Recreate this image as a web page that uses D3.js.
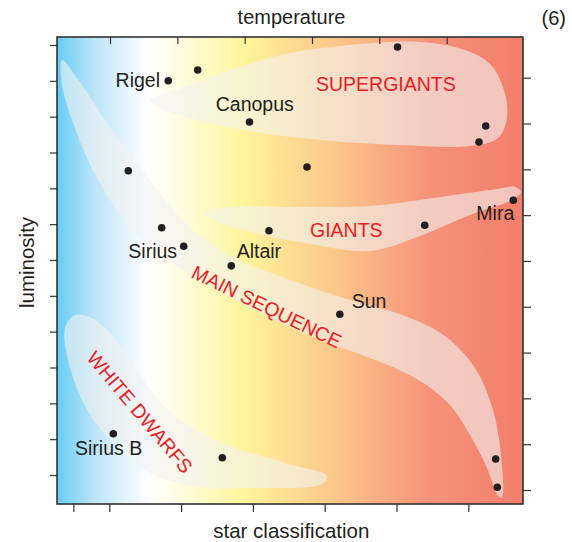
<!DOCTYPE html>
<html>
<head>
<meta charset="utf-8">
<script src="https://cdn.jsdelivr.net/npm/d3@7"></script>
<style>
  html, body { margin: 0; padding: 0; background: #ffffff; }
  svg { display: block; }
  text { font-family: "Liberation Sans", Arial, Helvetica, sans-serif; }
</style>
</head>
<body>
<svg id="chart" width="572" height="542"></svg>
<script>
// ---------------- data ----------------
// star positions in plot units (x: 0 = hot/blue .. 100 = cool/red, y: 0 = faint .. 100 = bright)
const starX = [23.88, 30.19, 73.07, 41.31, 92.0, 90.56, 53.65, 15.30, 22.47, 27.19, 45.49, 37.40, 60.69, 78.91, 97.92, 12.08, 35.47, 94.14, 94.49];
const starY = [90.64, 92.93, 97.86, 81.80, 80.94, 77.52, 72.16, 71.37, 59.16, 55.18, 58.52, 51.0, 40.64, 59.68, 65.03, 15.05, 9.91, 9.64, 3.58];

// named star labels
const starNames   = ["Rigel", "Canopus", "Sirius", "Altair", "Sun", "Mira", "Sirius B"];
const starLabelX  = [22.10, 34.06, 15.30, 38.56, 63.24, 98.13, 3.86];
const starLabelY  = [89.38, 84.05, 52.61, 52.61, 42.03, 60.81, 10.49];
const starAnchor  = ["end", "start", "start", "start", "start", "end", "start"];

// region labels
const regionNames  = ["SUPERGIANTS", "GIANTS", "MAIN SEQUENCE", "WHITE DWARFS"];
const regionX      = [55.58, 54.29, 45.0, 17.81];
const regionY      = [88.44, 57.11, 42.30, 19.70];
const regionAngle  = [0, 0, 26, 50];

// region outlines (plot units)
const supergiantsShape = [[19.96,86.51],[27.47,89.29],[37.12,92.93],[50.0,96.57],[62.88,98.29],[77.90,98.93],[87.55,97.22],[92.92,94.22],[95.92,88.65],[96.57,82.66],[94.64,78.37],[88.63,76.66],[73.61,76.87],[56.44,77.94],[41.42,79.87],[28.54,82.66],[21.24,85.22]];
const giantsShape = [[31.76,62.31],[37.12,63.60],[52.15,63.60],[67.17,63.81],[80.69,65.52],[92.92,67.24],[98.28,67.88],[99.57,66.81],[97.64,65.10],[88.63,61.88],[77.90,57.39],[67.17,54.18],[54.29,55.67],[41.42,58.24],[33.91,60.60]];
const mainSequenceShape = [[1.07,95.07],[4.94,90.36],[10.30,82.23],[16.74,73.66],[23.18,65.10],[29.61,58.24],[38.20,52.68],[50.0,47.97],[62.88,43.68],[74.68,40.26],[83.26,35.97],[89.70,29.12],[93.56,20.13],[95.28,10.49],[95.49,1.50],[94.85,1.50],[92.27,7.71],[88.63,14.78],[83.91,21.63],[76.82,26.98],[67.17,31.26],[56.44,35.12],[45.71,39.83],[37.12,44.33],[26.39,50.54],[17.81,56.96],[11.37,65.10],[6.65,73.66],[3.22,82.23],[1.07,89.72]];
const whiteDwarfShape = [[3.86,40.47],[7.51,39.83],[11.80,36.19],[16.74,29.12],[23.82,20.13],[34.55,13.49],[48.93,8.78],[57.94,6.0],[56.87,4.28],[41.42,3.43],[30.69,3.64],[19.96,6.64],[11.37,13.70],[5.36,22.27],[1.72,34.05],[1.93,38.33]];

// unlabeled tick positions on the four frame sides
const leftTicks   = [0,1,2,3,4,5,6,7,8,9,10,11,12];
const rightTicks  = [0,1,2,3,4,5,6,7,8,9];
const bottomTicks = [-0.5,0,1,2,3,4,5];
const topTicks    = [0,1,2,3,4,5];

// spectrum colour stops
const spectrumOffsets = [0, 0.08, 0.2, 0.4, 0.6, 0.8, 1];
const spectrumColors  = ["#66ccf4", "#bde5f8", "#ffffff", "#fff59b", "#fcc68a", "#f5927a", "#f27e6b"];

// ---------------- layout ----------------
const L = 57, R = 523, T = 37, B = 504;
const svg = d3.select("#chart");

const x = d3.scaleLinear().domain([0, 100]).range([L, R]);
const y = d3.scaleLinear().domain([0, 100]).range([B, T]);

const leftScale   = d3.scaleLinear().domain([0, 12]).range([475, 45]);
const rightScale  = d3.scaleLinear().domain([0, 9]).range([490, 77.7]);
const bottomScale = d3.scaleLinear().domain([0, 5]).range([109.3, 468.3]);
const topScale    = d3.scaleLinear().domain([0, 5]).range([110, 446.7]);

const defs = svg.append("defs");
const grad = defs.append("linearGradient").attr("id", "spectrum")
  .attr("x1", "0%").attr("x2", "100%").attr("y1", "0%").attr("y2", "0%");
spectrumOffsets.forEach((o, i) => {
  grad.append("stop").attr("offset", o).attr("stop-color", spectrumColors[i]);
});
defs.append("clipPath").attr("id", "plotclip").append("rect")
  .attr("x", L).attr("y", T).attr("width", R - L).attr("height", B - T);

svg.append("rect").attr("x", L).attr("y", T).attr("width", R - L).attr("height", B - T)
  .attr("fill", "url(#spectrum)");

const plot = svg.append("g").attr("clip-path", "url(#plotclip)");

const shapeLine = d3.line().x(d => x(d[0])).y(d => y(d[1])).curve(d3.curveCatmullRomClosed.alpha(0.5));
[supergiantsShape, giantsShape, mainSequenceShape, whiteDwarfShape].forEach(s => {
  plot.append("path").attr("d", shapeLine(s))
    .attr("fill", "#f2f2f2").attr("fill-opacity", 0.6);
});

// axes (ticks only)
function styleAxis(g) {
  g.select(".domain").remove();
  g.selectAll(".tick line").attr("stroke", "#333").attr("stroke-width", 1.2);
  g.selectAll(".tick text").remove();
}
svg.append("g").attr("transform", `translate(${L},0)`)
  .call(d3.axisLeft(leftScale).tickValues(leftTicks).tickSize(7).tickFormat("")).call(styleAxis);
svg.append("g").attr("transform", `translate(${R},0)`)
  .call(d3.axisRight(rightScale).tickValues(rightTicks).tickSize(8).tickFormat("")).call(styleAxis);
svg.append("g").attr("transform", `translate(0,${B})`)
  .call(d3.axisBottom(bottomScale).tickValues(bottomTicks).tickSize(8).tickFormat("")).call(styleAxis);
svg.append("g").attr("transform", `translate(0,${T})`)
  .call(d3.axisBottom(topScale).tickValues(topTicks).tickSize(7).tickFormat("")).call(styleAxis);

// frame
svg.append("rect").attr("x", L).attr("y", T).attr("width", R - L).attr("height", B - T)
  .attr("fill", "none").attr("stroke", "#333").attr("stroke-width", 1.6);

// stars
svg.append("g").selectAll("circle").data(starX).join("circle")
  .attr("cx", (d) => x(d)).attr("cy", (d, i) => y(starY[i])).attr("r", 3.8)
  .attr("fill", "#231f20");

// star labels
svg.append("g").selectAll("text").data(starNames).join("text")
  .attr("x", (d, i) => x(starLabelX[i])).attr("y", (d, i) => y(starLabelY[i]))
  .attr("text-anchor", (d, i) => starAnchor[i])
  .attr("font-size", 19.5).attr("fill", "#231f20").text(d => d);

// region labels
svg.append("g").selectAll("text").data(regionNames).join("text")
  .attr("transform", (d, i) => `translate(${x(regionX[i])},${y(regionY[i])}) rotate(${regionAngle[i]})`)
  .attr("text-anchor", (d, i) => regionAngle[i] ? "middle" : "start")
  .attr("dy", (d, i) => regionAngle[i] ? "0.36em" : 0)
  .attr("font-size", 19.5).attr("fill", "#ed1c24").text(d => d);

// titles
svg.append("text").attr("x", 291.5).attr("y", 23.5).attr("text-anchor", "middle")
  .attr("font-size", 20).attr("fill", "#231f20").text("temperature");
svg.append("text").attr("x", 566).attr("y", 25).attr("text-anchor", "end")
  .attr("font-size", 20).attr("fill", "#231f20").text("(6)");
svg.append("text").attr("x", 291.3).attr("y", 537.5).attr("text-anchor", "middle")
  .attr("font-size", 20.5).attr("fill", "#231f20").text("star classification");
svg.append("text").attr("transform", "translate(33.5,262.5) rotate(-90)").attr("text-anchor", "middle")
  .attr("font-size", 20.5).attr("fill", "#231f20").text("luminosity");
</script>
</body>
</html>
